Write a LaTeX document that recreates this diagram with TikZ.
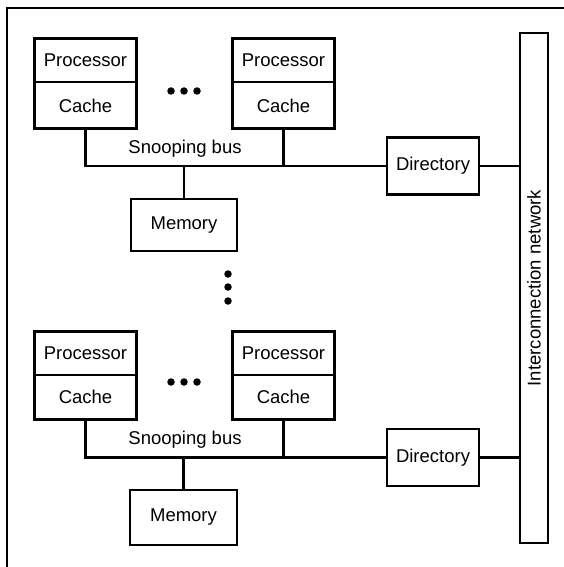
\documentclass[tikz,border=0pt]{standalone}
\usepackage{fontspec}
\setmainfont{Liberation Sans}
\begin{document}
\begin{tikzpicture}[x=1pt,y=-1pt,
  half/.style={draw,line width=1pt,minimum width=101pt,inner sep=0pt,font=\fontsize{18.5}{21}\selectfont},
  boxx/.style={draw,line width=2.6pt,inner sep=0pt,font=\fontsize{18.5}{21}\selectfont},
  thick box/.style={draw,line width=2.6pt},
  wire/.style={line width=2.4pt},
  dotty/.style={fill=black,circle,inner sep=0pt,minimum size=7.5pt},
  lbl/.style={font=\fontsize{18.5}{21}\selectfont}]
\useasboundingbox (0,0) rectangle (564,567);
\draw[line width=1.6pt] (7,567) -- (7,8) -- (564,8);
% ---------- top cluster ----------
\node[half,minimum height=43pt] (p1) at (85.5,60.5) {Processor};
\node[half,minimum height=45pt,anchor=north] (c1) at (p1.south) {Cache};
\draw[thick box] (p1.north west) rectangle (c1.south east);
\node[half,minimum height=43pt] (p2) at (283.5,60.5) {Processor};
\node[half,minimum height=45pt,anchor=north] (c2) at (p2.south) {Cache};
\draw[thick box] (p2.north west) rectangle (c2.south east);
\node[dotty] (d1) at (171,91) {};
\node[dotty] (d2) at (184,91) {};
\node[dotty] (d3) at (197,91) {};
\node[boxx,minimum width=92pt,minimum height=57pt] (dir1) at (433,166) {Directory};
\node[boxx,minimum width=106pt,minimum height=52pt] (m1) at (184,225) {Memory};
\node[lbl] (sb1) at (185,149) {Snooping bus};
\draw[wire] (c1.south) |- (dir1.west);
\draw[wire] (c2.south) -- (c2.south |- dir1.west);
\draw[wire] (m1.north) -- (m1.north |- dir1.west);
% ---------- interconnect ----------
\node[boxx,minimum width=28pt,minimum height=510pt] (net) at (534,288) {};
\node[lbl,rotate=90] (netl) at (net.center) {Interconnection network};
\draw[wire] (dir1.east) -- (dir1.east -| net.west);
% ---------- vertical dots ----------
\node[dotty] (v1) at (228,274) {};
\node[dotty] (v2) at (228,287) {};
\node[dotty] (v3) at (228,301) {};
% ---------- bottom cluster ----------
\node[half,minimum height=42pt] (p3) at (85.5,353) {Processor};
\node[half,minimum height=44pt,anchor=north] (c3) at (p3.south) {Cache};
\draw[thick box] (p3.north west) rectangle (c3.south east);
\node[half,minimum height=42pt] (p4) at (283.5,353) {Processor};
\node[half,minimum height=44pt,anchor=north] (c4) at (p4.south) {Cache};
\draw[thick box] (p4.north west) rectangle (c4.south east);
\node[dotty] (d4) at (171,382) {};
\node[dotty] (d5) at (184,382) {};
\node[dotty] (d6) at (197,382) {};
\node[boxx,minimum width=92pt,minimum height=57pt] (dir2) at (433,457.5) {Directory};
\node[boxx,minimum width=107pt,minimum height=55pt] (m2) at (183.5,517.5) {Memory};
\node[lbl] (sb2) at (185,440) {Snooping bus};
\draw[wire] (c3.south) |- (dir2.west);
\draw[wire] (c4.south) -- (c4.south |- dir2.west);
\draw[wire] (m2.north) -- (m2.north |- dir2.west);
\draw[wire] (dir2.east) -- (dir2.east -| net.west);
\end{tikzpicture}
\end{document}
